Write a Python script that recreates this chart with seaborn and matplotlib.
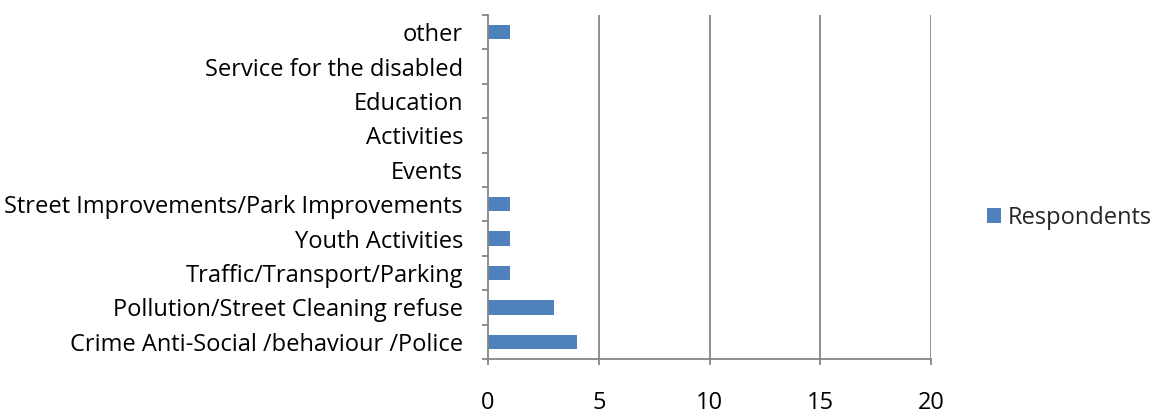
import matplotlib
matplotlib.use("Agg")
import matplotlib.pyplot as plt
import seaborn as sns
import pandas as pd
import numpy as np

categories = [
    "Crime Anti-Social /behaviour /Police",
    "Pollution/Street Cleaning refuse",
    "Traffic/Transport/Parking",
    "Youth Activities",
    "Street Improvements/Park Improvements",
    "Events",
    "Activities",
    "Education",
    "Service for the disabled",
    "other",
]
respondents = [4, 3, 1, 1, 1, 0, 0, 0, 0, 1]
x_ticks = [0, 5, 10, 15, 20]

sns.set_theme(style="white")
plt.rcParams["font.family"] = ["Open Sans", "DejaVu Sans"]

df = pd.DataFrame({"category": categories, "Respondents": respondents})
order = categories[::-1]

fig = plt.figure(figsize=(11.59, 4.15), dpi=100)
ax = fig.add_axes([488 / 1159, 1 - 359 / 415, (931 - 488) / 1159, (359 - 15) / 415])

sns.barplot(data=df, y="category", x="Respondents", order=order, orient="h",
            color="#4F81BD", saturation=1, width=0.42, ax=ax, label="Respondents",
            edgecolor="none")

ax.set_xlim(0, 20)
ax.set_xticks(x_ticks)
ax.set_xticklabels([str(t) for t in x_ticks])
ax.set_ylim(len(categories) - 0.5, -0.5)
ax.set_xlabel("")
ax.set_ylabel("")

grid_c = "#868686"
for t in x_ticks[1:]:
    ax.axvline(t, color=grid_c, lw=1.3, zorder=0)
for side in ["top", "right"]:
    ax.spines[side].set_visible(False)
for side in ["left", "bottom"]:
    ax.spines[side].set_color(grid_c)
    ax.spines[side].set_linewidth(1.3)

ax.set_yticks(np.arange(len(categories)))
ax.set_yticklabels(order)
ax.set_yticks(np.arange(len(categories) + 1) - 0.5, minor=True)
ax.tick_params(axis="y", which="major", length=0, pad=18, labelsize=17, colors="black")
ax.tick_params(axis="y", which="minor", length=4.5, width=1.3, color=grid_c, left=True)
ax.tick_params(axis="x", which="major", length=4.5, width=1.3, color=grid_c, bottom=True,
               pad=18.5, labelsize=17, labelcolor="black")

leg = ax.legend(loc="center left", bbox_to_anchor=(1.126, 0.41), frameon=False,
                fontsize=17, handlelength=0.62, handleheight=0.62, handletextpad=0.28,
                borderaxespad=0, borderpad=0)

fig.savefig("out.png", dpi=100)
